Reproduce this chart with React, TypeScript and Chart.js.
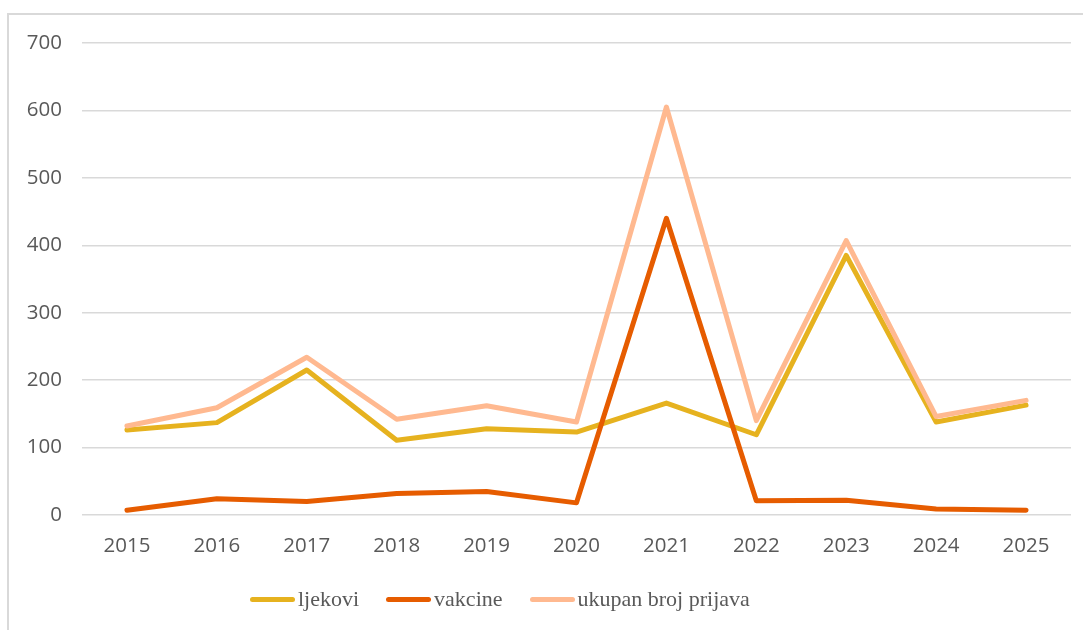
import React, { useEffect, useRef } from "react";
import { Chart, registerables } from "chart.js";

Chart.register(...registerables);

const years = ["2015", "2016", "2017", "2018", "2019", "2020", "2021", "2022", "2023", "2024", "2025"];
const ljekovi = [126, 137, 215, 111, 128, 123, 166, 119, 385, 138, 163];
const vakcine = [7, 24, 20, 32, 35, 18, 440, 21, 22, 9, 7];
const ukupan = [132, 159, 234, 142, 162, 138, 605, 140, 407, 146, 170];
const yTicks = [0, 100, 200, 300, 400, 500, 600, 700];
const seriesNames = ["ljekovi", "vakcine", "ukupan broj prijava"];
const seriesColors = ["#E6B21F", "#E65C00", "#FFB990"];

export default function App() {
  const ref = useRef<HTMLCanvasElement | null>(null);

  useEffect(() => {
    document.body.style.margin = "0";
    const canvas = ref.current;
    if (!canvas) return;
    const tickFont = { family: "'Open Sans', sans-serif", size: 20.5 };
    const values = [ljekovi, vakcine, ukupan];
    const chart = new Chart(canvas, {
      type: "line",
      data: {
        labels: years,
        datasets: values.map((data, i) => ({
          label: seriesNames[i],
          data,
          borderColor: seriesColors[i],
          backgroundColor: seriesColors[i],
          order: 3 - i,
          borderWidth: 5,
          pointRadius: 0,
          pointHoverRadius: 0,
          tension: 0,
          borderCapStyle: "round" as const,
          borderJoinStyle: "round" as const,
          fill: false,
        })),
      },
      options: {
        animation: false,
        responsive: false,
        maintainAspectRatio: false,
        layout: { padding: { top: 43, right: 12, bottom: 50, left: 0 } },
        plugins: {
          tooltip: { enabled: false },
          legend: { display: false },
        },
        scales: {
          x: {
            offset: true,
            grid: { display: false, drawTicks: false },
            border: { display: false },
            ticks: { color: "#595959", font: tickFont, padding: 19, maxRotation: 0 },
            afterFit: (s: any) => {
              s.height = 65;
            },
          },
          y: {
            min: 0,
            max: 700,
            afterBuildTicks: (s: any) => {
              s.ticks = yTicks.map((v) => ({ value: v }));
            },
            grid: { color: "#d9d9d9", lineWidth: 1.5, drawTicks: false },
            border: { display: false },
            ticks: { color: "#595959", font: tickFont, padding: 20 },
            afterFit: (s: any) => {
              s.width = 82;
            },
          },
        },
      },
    });
    return () => chart.destroy();
  }, []);

  return (
    <div style={{ position: "relative", width: 1083, height: 630, overflow: "hidden", background: "#fff" }}>
      <div
        style={{
          position: "absolute",
          left: 7,
          top: 13,
          width: 1200,
          height: 800,
          borderLeft: "2px solid #d9d9d9",
          borderTop: "2px solid #d9d9d9",
        }}
      />
      <canvas ref={ref} width={1083} height={630} style={{ position: "absolute", left: 0, top: 0, width: 1083, height: 630 }} />
      <div
        style={{
          position: "absolute",
          left: 250,
          top: 586,
          display: "flex",
          alignItems: "center",
          gap: 27,
          fontFamily: "'Liberation Serif', 'Times New Roman', serif",
          fontSize: 22,
          color: "#595959",
          whiteSpace: "nowrap",
        }}
      >
        {seriesNames.map((n, i) => (
          <div key={n} style={{ display: "flex", alignItems: "center" }}>
            <span
              style={{
                display: "inline-block",
                width: 45,
                height: 5,
                borderRadius: 3,
                background: seriesColors[i],
                marginRight: 3,
              }}
            />
            <span style={{ lineHeight: "26px" }}>{n}</span>
          </div>
        ))}
      </div>
    </div>
  );
}
